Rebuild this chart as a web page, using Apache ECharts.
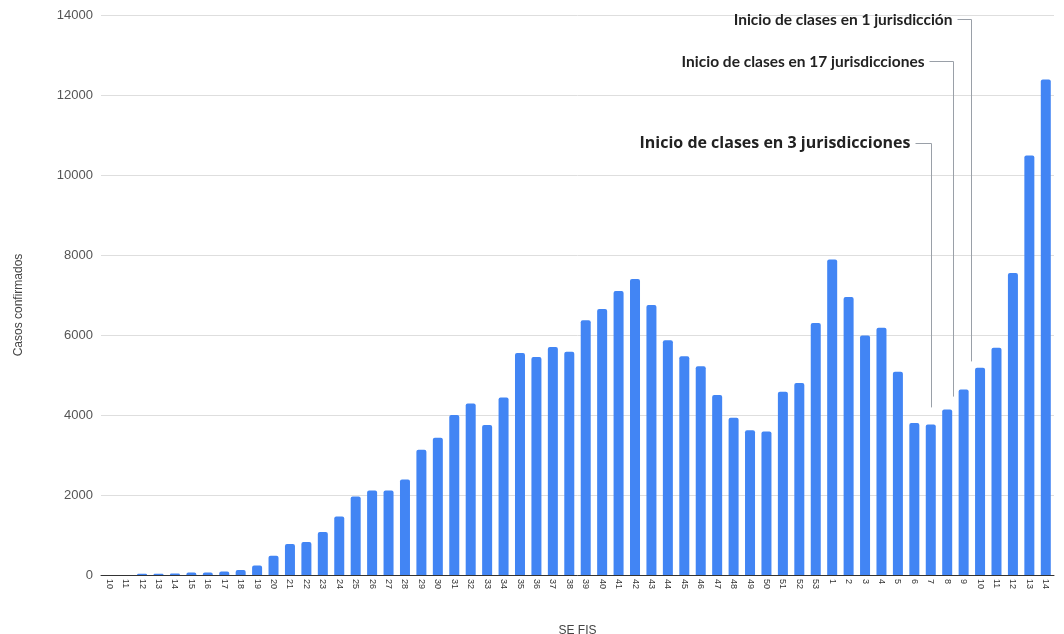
<!DOCTYPE html>
<html>
<head>
<meta charset="utf-8">
<script src="https://cdn.jsdelivr.net/npm/echarts@6/dist/echarts.min.js"></script>
<style>
  html, body { margin: 0; padding: 0; background: #ffffff; }
  #chart { width: 1064px; height: 634px; }
</style>
</head>
<body>
<div id="chart"></div>
<script>
// Semanas epidemiológicas (SE FIS): 10–53 de 2020 y 1–14 de 2021
const weeks = ['10','11','12','13','14','15','16','17','18','19','20','21','22','23','24','25','26','27','28','29',
  '30','31','32','33','34','35','36','37','38','39','40','41','42','43','44','45','46','47','48','49',
  '50','51','52','53','1','2','3','4','5','6','7','8','9','10','11','12','13','14'];

// Casos confirmados por semana
const cases = [0, 0, 30, 30, 35, 60, 65, 90, 125, 240, 480, 775, 825, 1075, 1460, 1960, 2110, 2110, 2390, 3130,
  3430, 4000, 4290, 3750, 4440, 5550, 5450, 5700, 5580, 6370, 6650, 7100, 7400, 6750, 5870, 5470, 5220, 4500, 3930, 3620,
  3590, 4580, 4800, 6300, 7890, 6950, 5990, 6180, 5080, 3800, 3760, 4140, 4640, 5180, 5680, 7550, 10490, 12390];

// Anotaciones: índice de la semana señalada, texto, nivel del texto y nivel donde termina la guía
const noteIndex = [50, 51, 52];
const noteText = ['Inicio de clases en 3 jurisdicciones', 'Inicio de clases en 17 jurisdicciones', 'Inicio de clases en 1 jurisdicción'];
const noteTextLevel = [10790, 12850, 13900];
const noteTipLevel = [4190, 4460, 5340];

const chart = echarts.init(document.getElementById('chart'), null, { renderer: 'canvas' });

chart.setOption({
  animation: false,
  backgroundColor: '#ffffff',
  grid: { left: 101, right: 10, top: 15, bottom: 59, containLabel: false, outerBoundsMode: 'none' },
  xAxis: {
    type: 'category',
    data: weeks,
    name: 'SE FIS',
    nameLocation: 'middle',
    nameGap: 50,
    nameTextStyle: { fontFamily: 'Liberation Sans', fontSize: 12, color: '#444' },
    axisLine: { show: true, lineStyle: { color: '#333', width: 1 } },
    axisTick: { show: false },
    axisLabel: {
      interval: 0, rotate: -90, fontSize: 9, color: '#333', margin: 4,
      fontFamily: 'Liberation Sans'
    }
  },
  yAxis: {
    type: 'value',
    min: 0, max: 14000, interval: 2000,
    name: 'Casos confirmados',
    nameLocation: 'middle',
    nameGap: 76,
    nameRotate: 90,
    nameTextStyle: { fontFamily: 'Liberation Sans', fontSize: 12, color: '#444', padding: [0, 20, 0, 0] },
    axisLine: { show: false },
    axisTick: { show: false },
    axisLabel: {
      fontFamily: 'Liberation Sans', fontSize: 13, color: '#555', margin: 8,
      formatter: function (v) { return String(v); }
    },
    splitLine: { lineStyle: { color: '#dedede', width: 1 } }
  },
  series: [{
    type: 'bar',
    data: cases,
    barWidth: 10,
    itemStyle: { color: '#4285F4', borderRadius: [2, 2, 0, 0] }
  }]
});

// Guías de anotación, ubicadas a partir de las escalas del gráfico
const noteFonts = [
  { font: 'bold 16px "Open Sans"', arm: 16, dx: 0 },
  { font: 'bold 15.5px Lato', arm: 24, dx: 6 },
  { font: 'bold 15.5px Lato', arm: 14, dx: 7 }
];
const graphics = [];
noteIndex.forEach(function (idx, i) {
  const tip = chart.convertToPixel({ seriesIndex: 0 }, [idx, noteTipLevel[i]]);
  const top = chart.convertToPixel({ seriesIndex: 0 }, [idx, noteTextLevel[i]]);
  const x = Math.round(tip[0] + noteFonts[i].dx) + 0.5;
  const yText = Math.round(top[1]) + 0.5;
  const yTip = tip[1];
  const arm = noteFonts[i].arm;
  graphics.push({
    type: 'polyline',
    shape: { points: [[x - arm, yText], [x, yText], [x, yTip]] },
    style: { stroke: '#9aa0a8', lineWidth: 1, fill: null },
    silent: true
  });
  graphics.push({
    type: 'text',
    x: x - arm - 5,
    y: yText,
    style: {
      text: noteText[i],
      font: noteFonts[i].font,
      fill: '#222',
      align: 'right',
      verticalAlign: 'middle'
    },
    silent: true
  });
});
chart.setOption({ graphic: graphics });
</script>
</body>
</html>
